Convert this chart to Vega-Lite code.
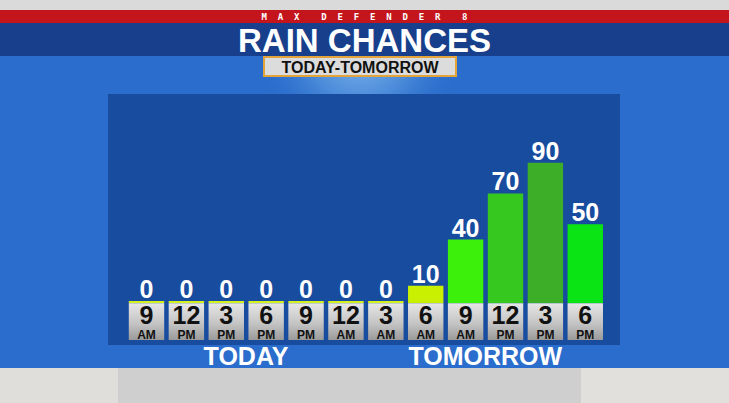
{
  "$schema": "https://vega.github.io/schema/vega-lite/v6.json",
  "padding": 0,
  "background": "#2a6dcc",
  "bounds": "full",
  "spacing": 0,
  "config": {
    "view": {"stroke": null},
    "concat": {"spacing": 0},
    "font": "Liberation Sans"
  },
  "datasets": {
    "rain": [
      {"slot": "Today 9 AM", "hour": "9", "ampm": "AM", "pct": 0},
      {"slot": "Today 12 PM", "hour": "12", "ampm": "PM", "pct": 0},
      {"slot": "Today 3 PM", "hour": "3", "ampm": "PM", "pct": 0},
      {"slot": "Today 6 PM", "hour": "6", "ampm": "PM", "pct": 0},
      {"slot": "Today 9 PM", "hour": "9", "ampm": "PM", "pct": 0},
      {"slot": "Tomorrow 12 AM", "hour": "12", "ampm": "AM", "pct": 0},
      {"slot": "Tomorrow 3 AM", "hour": "3", "ampm": "AM", "pct": 0},
      {"slot": "Tomorrow 6 AM", "hour": "6", "ampm": "AM", "pct": 10},
      {"slot": "Tomorrow 9 AM", "hour": "9", "ampm": "AM", "pct": 40},
      {"slot": "Tomorrow 12 PM", "hour": "12", "ampm": "PM", "pct": 70},
      {"slot": "Tomorrow 3 PM", "hour": "3", "ampm": "PM", "pct": 90},
      {"slot": "Tomorrow 6 PM", "hour": "6", "ampm": "PM", "pct": 50}
    ],
    "days": [
      {"label": "TODAY", "at": "Today 3 PM"},
      {"label": "TOMORROW", "at": "Tomorrow 9 AM"}
    ],
    "blank": [{}]
  },
  "vconcat": [
    {
      "width": 729, "height": 10,
      "view": {"fill": "#dadada", "stroke": null},
      "data": {"name": "blank"},
      "mark": {"type": "text", "clip": true},
      "encoding": {"text": {"value": ""}}
    },
    {
      "width": 729, "height": 13,
      "view": {"fill": "#c4151c", "stroke": null},
      "data": {"name": "blank"},
      "mark": {"type": "text", "clip": true, "font": "DejaVu Sans Mono", "fontWeight": "bold", "fontSize": 9, "color": "white", "baseline": "middle", "align": "center", "dy": 0},
      "encoding": {"text": {"value": "M\u00a0\u00a0A\u00a0\u00a0X\u00a0\u00a0\u00a0\u00a0D\u00a0\u00a0E\u00a0\u00a0F\u00a0\u00a0E\u00a0\u00a0N\u00a0\u00a0D\u00a0\u00a0E\u00a0\u00a0R\u00a0\u00a0\u00a0\u00a08"}}
    },
    {
      "width": 729, "height": 33,
      "view": {"fill": "#173f8b", "stroke": null},
      "data": {"name": "blank"},
      "mark": {"type": "text", "clip": true, "fontWeight": "bold", "fontSize": 33, "color": "white", "baseline": "alphabetic", "align": "center", "dy": 12},
      "encoding": {"text": {"value": "RAIN CHANCES"}}
    },
    {
      "hconcat": [
        {
          "width": 263, "height": 37,
          "data": {"name": "blank"},
          "mark": {"type": "text", "clip": true},
          "encoding": {"text": {"value": ""}}
        },
        {
          "vconcat": [
            {
              "width": 192, "height": 19,
              "view": {"fill": "#dcdcdc", "stroke": "#e2a33a", "strokeWidth": 2},
              "data": {"name": "blank"},
              "mark": {"type": "text", "clip": true, "fontWeight": "bold", "fontSize": 16, "color": "#111111", "baseline": "middle", "align": "center", "dy": 1.5},
              "encoding": {"text": {"value": "TODAY-TOMORROW"}}
            },
            {
              "width": 192, "height": 17,
              "data": {"name": "blank"},
              "mark": {
                "type": "rect", "clip": true,
                "color": {
                  "gradient": "radial", "x1": 0.5, "y1": 0.3, "r1": 0, "x2": 0.5, "y2": 0.3, "r2": 0.55,
                  "stops": [
                    {"offset": 0, "color": "rgba(160,205,245,0.9)"},
                    {"offset": 0.5, "color": "rgba(110,170,232,0.5)"},
                    {"offset": 1, "color": "rgba(42,109,204,0)"}
                  ]
                }
              },
              "encoding": {
                "x": {"datum": 0, "type": "quantitative", "axis": null, "scale": {"domain": [0, 1], "nice": false, "zero": false}},
                "x2": {"datum": 1},
                "y": {"datum": 0, "type": "quantitative", "axis": null, "scale": {"domain": [0, 1], "nice": false, "zero": false}},
                "y2": {"datum": 1}
              }
            }
          ],
          "spacing": 0
        }
      ],
      "spacing": 0
    },
    {
      "hconcat": [
        {
          "width": 108, "height": 251,
          "data": {"name": "blank"},
          "mark": {"type": "text", "clip": true},
          "encoding": {"text": {"value": ""}}
        },
        {
          "width": 512, "height": 251,
          "view": {"fill": "#184c9f", "stroke": null},
          "data": {"name": "rain"},
          "encoding": {
            "x": {
              "field": "slot", "type": "nominal", "sort": null, "axis": null,
              "scale": {"type": "band", "paddingInner": 0.1125, "paddingOuter": 0.474, "align": 0.55}
            }
          },
          "layer": [
            {
              "mark": {"type": "bar"},
              "encoding": {
                "y": {"field": "pct", "type": "quantitative", "axis": null, "scale": {"domain": [-28.55, 134.7], "nice": false, "zero": false}},
                "y2": {"datum": -1.43},
                "color": {
                  "field": "pct", "type": "ordinal", "legend": null,
                  "scale": {"domain": [0, 10, 40, 50, 70, 90], "range": ["#d6f21e", "#c8f000", "#3cf00c", "#0ae414", "#36c81e", "#3cae28"]}
                }
              }
            },
            {
              "mark": {
                "type": "bar",
                "color": {
                  "gradient": "linear", "x1": 0, "y1": 0, "x2": 0, "y2": 1,
                  "stops": [
                    {"offset": 0, "color": "#e6e6e6"},
                    {"offset": 0.55, "color": "#c4c4c4"},
                    {"offset": 1, "color": "#9a9a9a"}
                  ]
                }
              },
              "encoding": {"y": {"datum": -1.43}, "y2": {"datum": -25.3}}
            },
            {
              "mark": {"type": "text", "fontWeight": "bold", "fontSize": 25, "color": "#111111", "baseline": "alphabetic", "align": "center"},
              "encoding": {"y": {"datum": -14.9}, "text": {"field": "hour"}}
            },
            {
              "mark": {"type": "text", "fontWeight": "bold", "fontSize": 12, "color": "#111111", "baseline": "alphabetic", "align": "center"},
              "encoding": {"y": {"datum": -24.8}, "text": {"field": "ampm"}}
            },
            {
              "mark": {"type": "text", "fontWeight": "bold", "fontSize": 25, "color": "white", "baseline": "alphabetic", "align": "center", "dy": -3},
              "encoding": {"y": {"field": "pct", "type": "quantitative"}, "text": {"field": "pct", "type": "quantitative"}}
            }
          ]
        }
      ],
      "spacing": 0
    },
    {
      "hconcat": [
        {
          "width": 108, "height": 23,
          "data": {"name": "blank"},
          "mark": {"type": "text", "clip": true},
          "encoding": {"text": {"value": ""}}
        },
        {
          "width": 512, "height": 23,
          "data": {"name": "days"},
          "mark": {"type": "text", "clip": true, "fontWeight": "bold", "fontSize": 25, "color": "white", "baseline": "alphabetic", "align": "center", "dx": 2, "dy": 20},
          "encoding": {
            "x": {
              "field": "at", "type": "nominal", "axis": null, "bandPosition": 1,
              "scale": {
                "type": "band",
                "domain": ["Today 9 AM", "Today 12 PM", "Today 3 PM", "Today 6 PM", "Today 9 PM", "Tomorrow 12 AM", "Tomorrow 3 AM", "Tomorrow 6 AM", "Tomorrow 9 AM", "Tomorrow 12 PM", "Tomorrow 3 PM", "Tomorrow 6 PM"],
                "paddingInner": 0.1125, "paddingOuter": 0.474, "align": 0.55
              }
            },
            "y": {"value": 0},
            "text": {"field": "label"}
          }
        }
      ],
      "spacing": 0
    },
    {
      "hconcat": [
        {
          "width": 118, "height": 35,
          "view": {"fill": "#e0dedb", "stroke": null},
          "data": {"name": "blank"},
          "mark": {"type": "text", "clip": true},
          "encoding": {"text": {"value": ""}}
        },
        {
          "width": 463, "height": 35,
          "view": {"fill": "#cfcfcf", "stroke": null},
          "data": {"name": "blank"},
          "mark": {"type": "text", "clip": true},
          "encoding": {"text": {"value": ""}}
        },
        {
          "width": 148, "height": 35,
          "view": {"fill": "#e2e0dd", "stroke": null},
          "data": {"name": "blank"},
          "mark": {"type": "text", "clip": true},
          "encoding": {"text": {"value": ""}}
        }
      ],
      "spacing": 0
    }
  ]
}
